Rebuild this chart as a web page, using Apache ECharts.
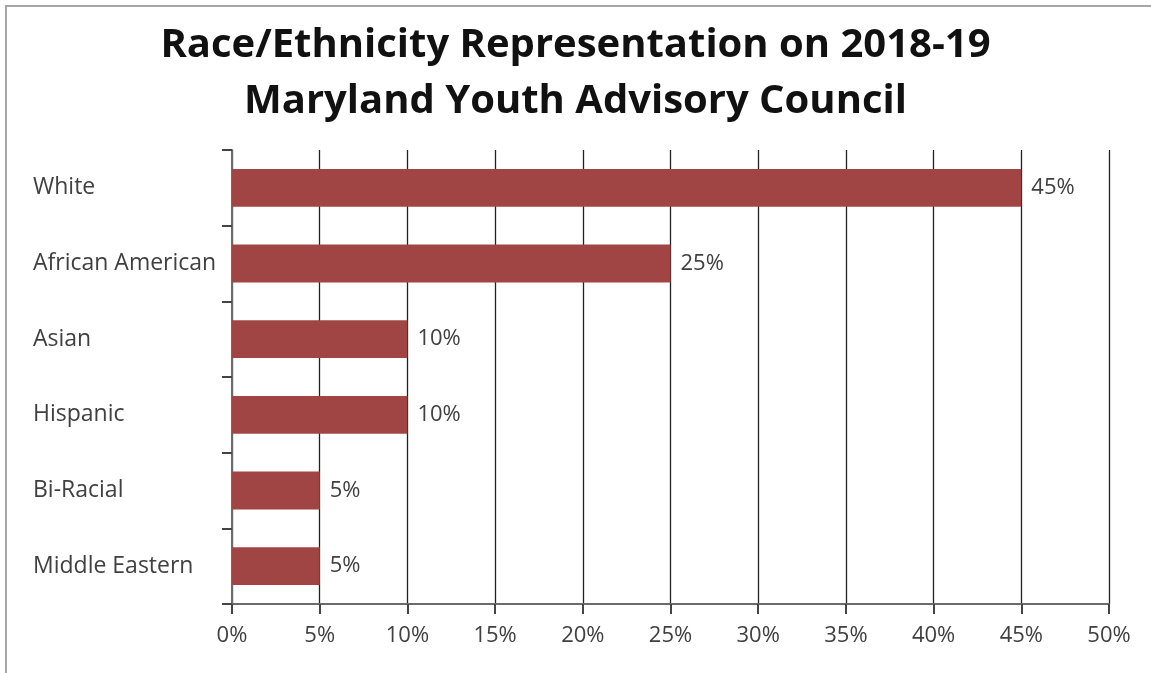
<!DOCTYPE html>
<html><head><meta charset="utf-8">
<script src="https://cdn.jsdelivr.net/npm/echarts@6/dist/echarts.min.js"></script>
<style>
html,body{margin:0;padding:0;background:#fff;}
#frame{position:absolute;left:5px;top:5px;width:1200px;height:700px;border-top:2px solid #a6a6a6;border-left:2px solid #a6a6a6;box-sizing:border-box;}
#c{position:absolute;left:0;top:0;width:1151px;height:673px;}
</style></head>
<body>
<div id="frame"></div>
<div id="c"></div>
<script>
const categories = ['White','African American','Asian','Hispanic','Bi-Racial','Middle Eastern'];
const values = [45,25,10,10,5,5];
const titleLines = ['Race/Ethnicity Representation on 2018-19','Maryland Youth Advisory Council'];
const xTicks = {min:0,max:50,interval:5};

const chart = echarts.init(document.getElementById('c'), null, {renderer:'canvas'});
chart.setOption({
  animation:false,
  backgroundColor:'transparent',
  title:{
    text:titleLines.join('\n'),
    left:'center', top:13,
    textStyle:{fontFamily:'Open Sans',fontWeight:'bold',fontSize:40,lineHeight:56,color:'#111'}
  },
  grid:{left:232,right:42,top:150,bottom:69,containLabel:false},
  xAxis:{
    type:'value',min:xTicks.min,max:xTicks.max,interval:xTicks.interval,
    axisLine:{show:true,lineStyle:{color:'#6b6b6b',width:2}},
    axisTick:{show:true,length:10,lineStyle:{color:'#444',width:2}},
    splitLine:{show:true,lineStyle:{color:'#222',width:1.3}},
    axisLabel:{formatter:v=>v+'%',fontFamily:'Open Sans',fontSize:22,color:'#404040',margin:21}
  },
  yAxis:{
    type:'category',data:categories,inverse:true,
    axisLine:{show:true,lineStyle:{color:'#6b6b6b',width:2}},
    axisTick:{show:true,length:10,lineStyle:{color:'#444',width:2}},
    axisLabel:{align:'left',margin:199,fontFamily:'Open Sans',fontSize:23,color:'#404040'}
  },
  series:[{
    type:'bar',data:values,barWidth:'50%',
    itemStyle:{color:'#A04543'},
    label:{show:true,position:'right',distance:10,formatter:p=>p.value+'%',fontFamily:'Open Sans',fontSize:22,color:'#404040'}
  }]
});
</script>
</body></html>
